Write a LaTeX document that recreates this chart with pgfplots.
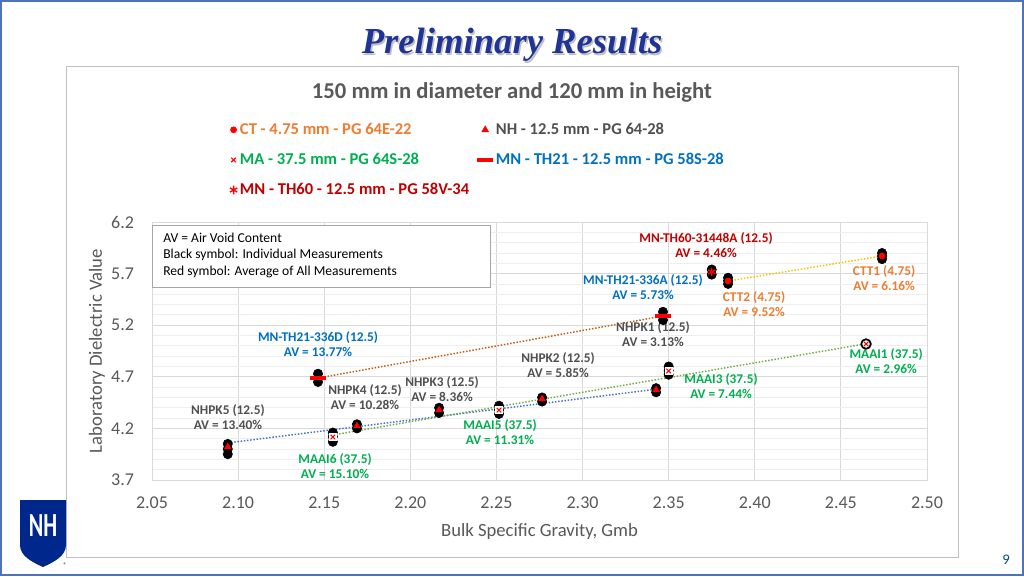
\documentclass[border=0pt]{standalone}
\usepackage{pgfplots}
\pgfplotsset{compat=1.18}
\usepackage{fontspec}
\setmainfont{Carlito}
\newfontfamily\titlefont{Liberation Serif}
\definecolor{slideblue}{RGB}{79,114,189}
\definecolor{titleblue}{RGB}{32,52,150}
\definecolor{axisgray}{RGB}{89,89,89}
\definecolor{gridgray}{RGB}{217,217,217}
\definecolor{minorgray}{RGB}{238,238,238}
\definecolor{nhgray}{RGB}{80,80,80}
\definecolor{magreen}{RGB}{0,176,80}
\definecolor{mnblue}{RGB}{0,112,192}
\definecolor{ctorange}{RGB}{237,125,49}
\definecolor{darkred}{RGB}{192,0,0}
\definecolor{trendyellow}{RGB}{255,192,0}
\definecolor{trendbrown}{RGB}{197,90,17}
\definecolor{trendblue}{RGB}{68,114,196}
\definecolor{trendgreen}{RGB}{112,173,71}
\definecolor{unhnavy}{RGB}{0,40,140}
\newcommand{\pxc}[2]{({0.75*(#1)*1pt},{0.75*(576-(#2))*1pt})}
\begin{document}
\begin{tikzpicture}
\useasboundingbox (0,0) rectangle (768pt,432pt);
\fill[white] (0,0) rectangle (768pt,432pt);
\draw[slideblue, line width=1.5pt] \pxc{1}{1} rectangle \pxc{1023}{575};
\draw[black!25, line width=0.75pt] \pxc{66}{67} rectangle \pxc{958}{557};
% slide title with shadow
\node[font=\titlefont\bfseries\itshape\fontsize{27.5}{32}\selectfont, text=black!25] at \pxc{513.5}{46.5} {Preliminary Results};
\node[font=\titlefont\bfseries\itshape\fontsize{27.5}{32}\selectfont, text=titleblue] at \pxc{512}{45} {Preliminary Results};
% chart title
\node[font=\bfseries\fontsize{17}{20}\selectfont, text=axisgray] at \pxc{512}{92} {150 mm in diameter and 120 mm in height};

\begin{axis}[
  at={(114pt,72pt)}, anchor=south west,
  width=581.25pt, height=193.5pt, scale only axis,
  xmin=2.05, xmax=2.5, ymin=3.7, ymax=6.2,
  xtick={2.05,2.10,2.15,2.20,2.25,2.30,2.35,2.40,2.45,2.50},
  ytick={3.7,4.2,4.7,5.2,5.7,6.2},
  minor ytick={3.8,3.9,4.0,4.1,4.3,4.4,4.5,4.6,4.8,4.9,5.0,5.1,5.3,5.4,5.5,5.6,5.8,5.9,6.0,6.1},
  xticklabel style={/pgf/number format/.cd, fixed, fixed zerofill, precision=2, /tikz/.cd, yshift=-9pt},
  yticklabel style={/pgf/number format/.cd, fixed, fixed zerofill, precision=1, /tikz/.cd, xshift=-10pt},
  /pgf/number format/assume math mode=true,
  tick label style={font=\fontsize{13.5}{16}\selectfont, text=axisgray},
  major tick length=0pt, minor tick length=0pt,
  axis line style={draw=gridgray},
  xmajorgrids, ymajorgrids, yminorgrids,
  major grid style={gridgray, line width=0.6pt},
  minor grid style={minorgray, line width=0.6pt},
  xlabel={Bulk Specific Gravity, Gmb},
  ylabel={Laboratory Dielectric Value},
  label style={font=\fontsize{14}{17}\selectfont, text=axisgray},
  xlabel style={at={(axis description cs:0.5,-0.198)}, anchor=center},
  ylabel style={at={(axis description cs:-0.071,0.5)}, anchor=center},
  legend columns=2,
  legend cell align=left,
  legend style={at={(axis description cs:0.095,1.405)}, anchor=north west, draw=none, fill=none,
    font=\bfseries\fontsize{12.4}{15}\selectfont, row sep=8.5pt,
    /tikz/every even column/.append style={column sep=4pt}},
  clip=false,
]
% trend lines
\addplot[forget plot, trendyellow, line width=1.1pt, dash pattern=on 1.1pt off 1.3pt] coordinates {(2.3845,5.628) (2.4739,5.871)};
\addplot[forget plot, trendbrown, line width=1.1pt, dash pattern=on 1.1pt off 1.3pt] coordinates {(2.1464,4.688) (2.3467,5.289)};
\addplot[forget plot, trendblue, line width=1.1pt, dash pattern=on 1.1pt off 1.3pt] coordinates {(2.0941,4.06) (2.3427,4.58)};
\addplot[forget plot, trendgreen, line width=1.1pt, dash pattern=on 1.1pt off 1.3pt] coordinates {(2.155,4.136) (2.4646,5.02)};
% individual measurements (black)
\addplot[forget plot, only marks, mark=*, mark size=3.5pt, black] coordinates {
 (2.4739,5.84) (2.4739,5.87) (2.4739,5.90)
 (2.3845,5.60) (2.3845,5.63) (2.3845,5.66)
 (2.375,5.69) (2.375,5.74)
 (2.3467,5.25) (2.3467,5.29) (2.3467,5.33)
 (2.1464,4.65) (2.1464,4.69) (2.1464,4.73)
 (2.094,3.95) (2.094,4.00) (2.094,4.05)
 (2.169,4.20) (2.169,4.24)
 (2.2167,4.35) (2.2167,4.40)
 (2.2765,4.46) (2.2765,4.50)
 (2.3427,4.55) (2.3427,4.59)
 (2.155,4.07) (2.155,4.12) (2.155,4.16)
 (2.2515,4.34) (2.2515,4.38) (2.2515,4.42)
 (2.350,4.72) (2.350,4.76) (2.350,4.80)
};
\addplot[forget plot, only marks, mark=*, mark size=3.6pt, mark options={fill=white, draw=black, line width=1.3pt}] coordinates {(2.4646,5.018)};
% white backgrounds for MA
\addplot[forget plot, only marks, mark=square*, mark size=2.6pt, mark options={fill=white, draw=white}] coordinates {
 (2.155,4.117) (2.2515,4.378) (2.350,4.756)};
% averages (red)
\addplot[only marks, mark=*, mark size=2.3pt, red] coordinates {(2.3845,5.628) (2.4739,5.871)};
\addlegendentry{\textcolor{ctorange}{CT - 4.75 mm - PG 64E-22}}
\addplot[only marks, mark=triangle*, mark size=2.9pt, red] coordinates {(2.094,4.02) (2.169,4.223) (2.2167,4.378) (2.2765,4.485) (2.3427,4.572)};
\addlegendentry{\textcolor{nhgray}{NH - 12.5 mm - PG 64-28}}
\addplot[only marks, mark=x, mark size=2.4pt, red, line width=0.8pt] coordinates {(2.155,4.117) (2.2515,4.378) (2.350,4.756) (2.4646,5.018)};
\addlegendentry{\textcolor{magreen}{MA - 37.5 mm - PG 64S-28}}
\addplot[only marks, mark=-, mark size=6pt, red, mark options={line width=3pt}] coordinates {(2.1464,4.688) (2.3467,5.289)};
\addlegendentry{\textcolor{mnblue}{MN - TH21 - 12.5 mm - PG 58S-28}}
\addplot[only marks, mark=asterisk, mark size=3.2pt, red, mark options={line width=1pt}] coordinates {(2.375,5.716)};
\addlegendentry{\textcolor{darkred}{MN - TH60 - 12.5 mm - PG 58V-34}}
% annotations
\tikzset{ann/.style={align=center, font=\bfseries\fontsize{10}{11.3}\selectfont, inner sep=0pt}}
\node[ann, text=darkred] at (axis cs:2.3717,5.972) {MN-TH60-31448A (12.5)\\AV = 4.46\%};
\node[ann, text=mnblue] at (axis cs:2.3351,5.565) {MN-TH21-336A (12.5)\\AV = 5.73\%};
\node[ann, text=ctorange] at (axis cs:2.4751,5.653) {CTT1 (4.75)\\AV = 6.16\%};
\node[ann, text=ctorange] at (axis cs:2.3996,5.401) {CTT2 (4.75)\\AV = 9.52\%};
\node[ann, text=nhgray] at (axis cs:2.3409,5.110) {NHPK1 (12.5)\\AV = 3.13\%};
\node[ann, text=mnblue] at (axis cs:2.1464,5.013) {MN-TH21-336D (12.5)\\AV = 13.77\%};
\node[ann, text=nhgray] at (axis cs:2.2858,4.809) {NHPK2 (12.5)\\AV = 5.85\%};
\node[ann, text=magreen] at (axis cs:2.4763,4.848) {MAAI1 (37.5)\\AV = 2.96\%};
\node[ann, text=magreen] at (axis cs:2.3804,4.606) {MAAI3 (37.5)\\AV = 7.44\%};
\node[ann, text=nhgray] at (axis cs:2.2184,4.577) {NHPK3 (12.5)\\AV = 8.36\%};
\node[ann, text=nhgray] at (axis cs:2.1737,4.499) {NHPK4 (12.5)\\AV = 10.28\%};
\node[ann, text=nhgray] at (axis cs:2.0941,4.306) {NHPK5 (12.5)\\AV = 13.40\%};
\node[ann, text=magreen] at (axis cs:2.2521,4.160) {MAAI5 (37.5)\\AV = 11.31\%};
\node[ann, text=magreen] at (axis cs:2.1563,3.831) {MAAI6 (37.5)\\AV = 15.10\%};
\end{axis}
% notes box
\draw[black!35, fill=white, line width=0.75pt] \pxc{152}{225} rectangle \pxc{490}{287};
\node[anchor=west, font=\fontsize{10.2}{12}\selectfont, inner sep=0pt] at \pxc{163}{238} {AV = Air Void Content};
\node[anchor=west, font=\fontsize{10.2}{12}\selectfont, inner sep=0pt] at \pxc{163}{255} {Black symbol: Individual Measurements};
\node[anchor=west, font=\fontsize{10.2}{12}\selectfont, inner sep=0pt] at \pxc{163}{272} {Red symbol: Average of All Measurements};
% logo
\fill[unhnavy] \pxc{20}{500} -- \pxc{66}{500} -- \pxc{66}{545} .. controls \pxc{66}{556} and \pxc{54}{562} .. \pxc{43}{567} .. controls \pxc{32}{562} and \pxc{20}{556} .. \pxc{20}{545} -- cycle;
\node[text=white, font=\bfseries\fontsize{22}{22}\selectfont, xscale=0.75, yscale=1.15] at \pxc{43}{526} {NH};
\node[text=unhnavy, font=\fontsize{5}{5}\selectfont, inner sep=0pt] at \pxc{65}{565} {®};
% page number
\node[text=mnblue!70!black, font=\fontsize{11}{13}\selectfont] at \pxc{1006}{560} {9};
\end{tikzpicture}
\end{document}
